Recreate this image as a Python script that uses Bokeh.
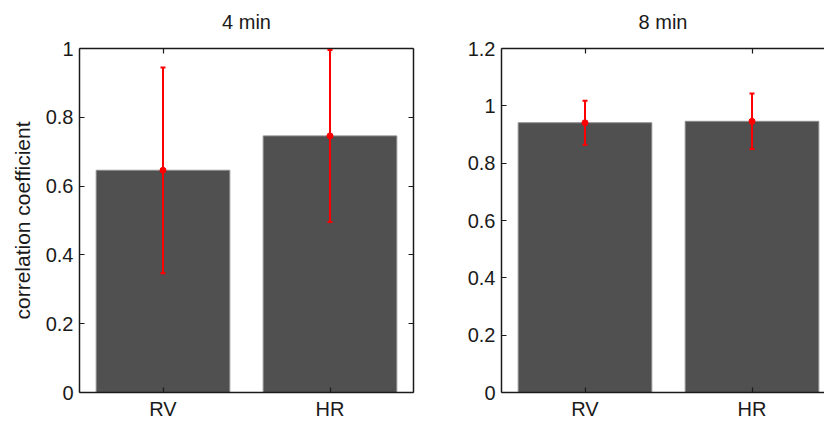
from bokeh.plotting import figure
from bokeh.models import (Range1d, FixedTicker, LinearAxis, ColumnDataSource,
                          Whisker, TeeHead, Title)
from bokeh.layouts import row
from bokeh.embed import file_html
from bokeh.resources import INLINE

# ---- data ----
categories = ["RV", "HR"]
positions = [1, 2]
titles = ["4 min", "8 min"]
mean_4min = [0.646, 0.746]
err_4min = [0.299, 0.250]
mean_8min = [0.941, 0.946]
err_8min = [0.077, 0.097]
yticks_4min = [0, 0.2, 0.4, 0.6, 0.8, 1.0]
ytick_labels_4min = ["0", "0.2", "0.4", "0.6", "0.8", "1"]
yticks_8min = [0, 0.2, 0.4, 0.6, 0.8, 1.0, 1.2]
ytick_labels_8min = ["0", "0.2", "0.4", "0.6", "0.8", "1", "1.2"]
ylabel = "correlation coefficient"

FONT = "Liberation Sans"
AX = "#1a1a1a"
BAR = "#505050"
RED = "#ff0000"


def style_axis(ax, ticks, labels, show_labels=True):
    ax.ticker = FixedTicker(ticks=ticks)
    ax.major_label_overrides = {t: l for t, l in zip(ticks, labels)}
    ax.major_tick_in = 5
    ax.major_tick_out = 0
    ax.minor_tick_in = 0
    ax.minor_tick_out = 0
    ax.axis_line_color = AX
    ax.axis_line_width = 1.5
    ax.major_tick_line_color = AX
    ax.major_tick_line_width = 1.2
    ax.major_label_text_font = FONT
    if show_labels:
        ax.major_label_text_font_size = "20px"
        ax.major_label_text_color = AX
    else:
        ax.major_label_text_font_size = "1px"
        ax.major_label_text_color = None
        ax.major_label_standoff = 0


def make_panel(title, means, errs, yticks, ylabels, x_end, width,
               min_left, min_right, ylab=None, right_axis=True):
    p = figure(width=width, height=422, output_backend="svg",
               toolbar_location=None, x_range=Range1d(0.5, x_end),
               y_range=Range1d(yticks[0], yticks[-1]),
               min_border_left=min_left, min_border_right=min_right,
               min_border_top=48, min_border_bottom=30)
    p.grid.visible = False
    p.outline_line_color = None
    p.background_fill_color = "white"
    p.border_fill_color = "white"

    style_axis(p.xaxis[0], positions, categories)
    p.xaxis[0].major_label_standoff = 5
    style_axis(p.yaxis[0], yticks, ylabels)
    p.yaxis[0].major_label_standoff = 6
    if ylab:
        p.yaxis[0].axis_label = ylab
        p.yaxis[0].axis_label_text_font = FONT
        p.yaxis[0].axis_label_text_font_size = "21px"
        p.yaxis[0].axis_label_text_font_style = "normal"
        p.yaxis[0].axis_label_text_color = AX
        p.yaxis[0].axis_label_standoff = 9

    top_ax = LinearAxis()
    style_axis(top_ax, positions, categories, show_labels=False)
    p.add_layout(top_ax, "above")
    # invisible spacer between the box and the title
    spacer = LinearAxis()
    style_axis(spacer, positions, categories, show_labels=False)
    spacer.axis_line_color = None
    spacer.major_tick_line_color = None
    spacer.major_tick_in = 0
    spacer.major_tick_out = 14
    p.add_layout(spacer, "above")
    if right_axis:
        r_ax = LinearAxis()
        style_axis(r_ax, yticks, ylabels, show_labels=False)
        p.add_layout(r_ax, "right")

    p.title = Title(text=title, align="center", text_font=FONT,
                    text_font_size="20px", text_font_style="normal",
                    text_color=AX, standoff=4)

    upper = [m + e for m, e in zip(means, errs)]
    lower = [m - e for m, e in zip(means, errs)]
    src = ColumnDataSource(dict(x=positions, top=means, upper=upper, lower=lower))

    p.vbar(x="x", top="top", bottom=0, width=0.8, source=src,
           fill_color=BAR, line_color="#8c8c8c", line_width=1)
    w = Whisker(base="x", upper="upper", lower="lower", source=src,
                line_color=RED, line_width=2, level="annotation",
                upper_head=TeeHead(size=5, line_color=RED, line_width=2),
                lower_head=TeeHead(size=5, line_color=RED, line_width=2))
    p.add_layout(w)
    p.scatter(x="x", y="top", source=src, size=6, color=RED, level="overlay")
    return p


p1 = make_panel(titles[0], mean_4min, err_4min, yticks_4min, ytick_labels_4min,
                2.5, 421, 79, 8, ylab=ylabel, right_axis=True)
p2 = make_panel(titles[1], mean_8min, err_8min, yticks_8min, ytick_labels_8min,
                2.434, 403, 80, 0, right_axis=False)

layout = row(p1, p2)
open("out.html", "w").write(file_html(layout, INLINE))
